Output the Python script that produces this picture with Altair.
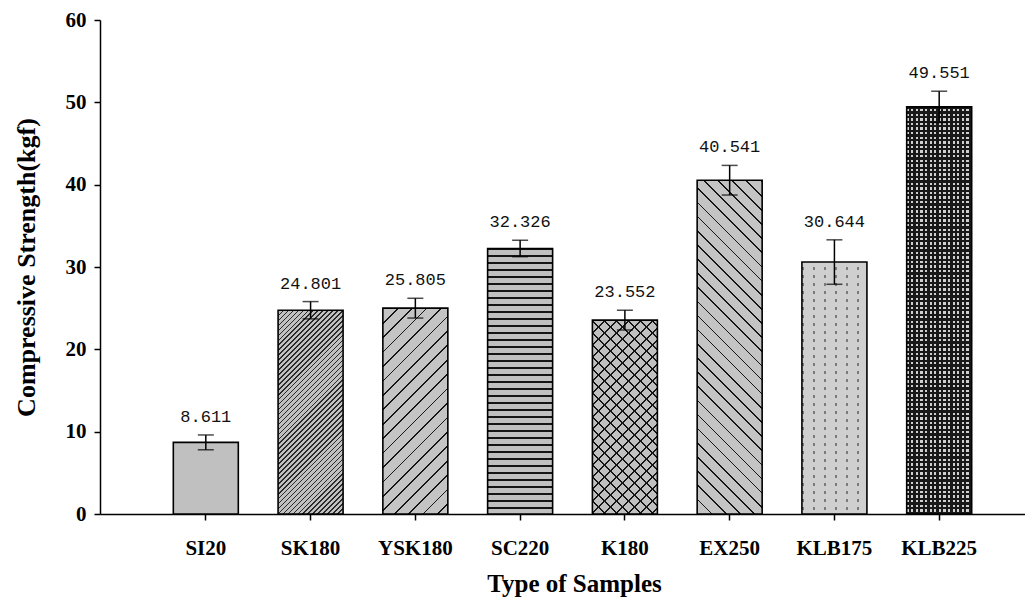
import math
import altair as alt
import pandas as pd

# ---------------- data ----------------
samples = ["SI20", "SK180", "YSK180", "SC220", "K180", "EX250", "KLB175", "KLB225"]
strength = [8.7, 24.75, 25.0, 32.25, 23.55, 40.54, 30.6, 49.45]
errors = [0.9, 1.05, 1.2, 1.0, 1.2, 1.8, 2.7, 1.9]
value_labels = ["8.611", "24.801", "25.805", "32.326", "23.552", "40.541", "30.644", "49.551"]
y_ticks = [0, 10, 20, 30, 40, 50, 60]

# ---------------- layout / style ----------------
Y_MAX = 60
PLOT_W = 925
PLOT_H = 494
P_INNER = 0.3796
P_OUTER = 0.6043
ALIGN = 0.579
SERIF = "Liberation Serif"

step = PLOT_W / (len(samples) - P_INNER + 2 * P_OUTER)
BAR_W = step * (1 - P_INNER)

df = pd.DataFrame({
    "sample": samples,
    "strength": strength,
    "lo": [v - e for v, e in zip(strength, errors)],
    "hi": [v + e for v, e in zip(strength, errors)],
    "label": value_labels,
})


def stripes(direction, period, line, line_color, bg_color, w, h):
    """Linear gradient with hard stops that draws a hatch pattern."""
    if direction == "h":
        L = h
        coords = dict(x1=0, y1=0, x2=0, y2=1)
    elif direction == "v":
        L = w
        coords = dict(x1=0, y1=0, x2=1, y2=0)
    else:
        L = (w + h) / math.sqrt(2)
        s = (w + h) / (w * w + h * h)
        if direction == "/":
            coords = dict(x1=0, y1=0, x2=s * w, y2=s * h)
        else:
            coords = dict(x1=0, y1=1, x2=s * w, y2=1 - s * h)
    stops = []
    k = 0
    while True:
        o = k * period / L
        if o >= 1:
            break
        ol = min(1.0, (k * period + line) / L)
        on = min(1.0, (k + 1) * period / L)
        stops += [(o, line_color), (ol, line_color), (ol, bg_color), (on, bg_color)]
        k += 1
    return {"gradient": "linear", **coords,
            "stops": [{"offset": round(o, 5), "color": c} for o, c in stops]}


GRAY = "#c0c0c0"
DARK = "#151515"
CLEAR = "rgba(0,0,0,0)"


def patterns(name, h):
    w = BAR_W
    if name == "SI20":
        return [GRAY]
    if name == "SK180":
        return [stripes("/", 3.5, 1.1, "#2a2a2a", GRAY, w, h)]
    if name == "YSK180":
        return [stripes("/", 10.2, 1.2, DARK, "#c4c4c4", w, h)]
    if name == "SC220":
        return [stripes("h", 7.0, 1.5, DARK, GRAY, w, h)]
    if name == "K180":
        return [stripes("/", 8.5, 1.2, DARK, GRAY, w, h),
                stripes("\\", 8.5, 1.2, DARK, CLEAR, w, h)]
    if name == "EX250":
        return [stripes("\\", 10.0, 1.2, DARK, "#c4c4c4", w, h)]
    if name == "KLB175":
        return [stripes("v", 11.0, 1.6, "#7a7a7a", "#cfcfcf", w, h),
                stripes("h", 8.0, 5.0, "#cfcfcf", CLEAR, w, h)]
    if name == "KLB225":
        return [stripes("v", 4.6, 2.1, "#cfcfcf", "#181818", w, h),
                stripes("h", 4.6, 2.2, "#181818", CLEAR, w, h)]
    return [GRAY]


x_scale = alt.Scale(domain=samples, paddingInner=P_INNER, paddingOuter=P_OUTER,
                    align=ALIGN, round=False)
x_axis = alt.Axis(title="Type of Samples", labelAngle=0, labelFont=SERIF,
                  labelFontSize=21, labelFontWeight="bold", labelColor="black",
                  labelPadding=17, tickSize=6, titleFont=SERIF, titleFontSize=25,
                  titleFontWeight="bold", titleColor="black", titlePadding=13,
                  titleX=474)
y_scale = alt.Scale(domain=[0, Y_MAX], nice=False)
y_axis = alt.Axis(title="Compressive Strength(kgf)", values=y_ticks, grid=False,
                  labelFont=SERIF, labelFontSize=21, labelFontWeight="bold",
                  labelColor="black", labelPadding=8, tickSize=6,
                  titleFont=SERIF, titleFontSize=26, titleFontWeight="bold",
                  titleColor="black", titlePadding=26)

X = alt.X("sample:N", scale=x_scale, axis=x_axis, sort=samples)

base = alt.Chart(df)
layers = []
for i, s in enumerate(samples):
    h_px = strength[i] * PLOT_H / Y_MAX
    for f in patterns(s, h_px):
        layers.append(
            base.transform_filter(alt.datum.sample == s)
            .mark_bar(fill=f, strokeWidth=0)
            .encode(x=X, y=alt.Y("strength:Q", scale=y_scale, axis=y_axis))
        )

outline = base.mark_bar(fillOpacity=0, stroke="black", strokeWidth=1.6).encode(
    x=X, y=alt.Y("strength:Q", scale=y_scale, axis=y_axis))

err_rule = base.mark_rule(color="black", strokeWidth=1.5).encode(
    x=X, y=alt.Y("lo:Q", scale=y_scale, axis=y_axis), y2="hi:Q")
cap_lo = base.mark_tick(color="black", size=16, thickness=1.5, orient="horizontal").encode(
    x=X, y=alt.Y("lo:Q", scale=y_scale, axis=y_axis))
cap_hi = base.mark_tick(color="black", size=16, thickness=1.5, orient="horizontal").encode(
    x=X, y=alt.Y("hi:Q", scale=y_scale, axis=y_axis))

labels = base.mark_text(font="Liberation Mono", fontSize=17, color="#111111",
                        baseline="bottom", dy=-9).encode(
    x=X, y=alt.Y("hi:Q", scale=y_scale, axis=y_axis), text="label:N")

chart = alt.layer(*layers, outline, err_rule, cap_lo, cap_hi, labels).properties(
    width=PLOT_W, height=PLOT_H,
    padding={"left": 92, "top": 12, "right": 0, "bottom": 88},
    autosize=alt.AutoSizeParams(type="none"),
    background="white",
).configure_view(stroke=None).configure_axis(
    domainColor="black", domainWidth=1.5, tickColor="black", tickWidth=1.5,
)

chart.save("out.html", embed_options={"renderer": "svg", "actions": False})
